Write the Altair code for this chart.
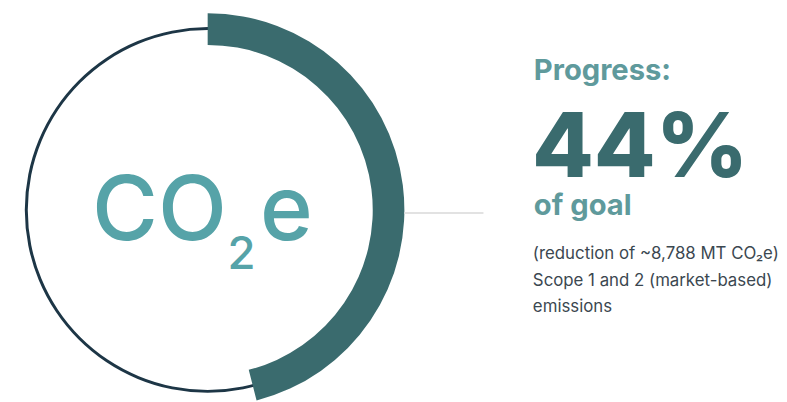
import altair as alt
import pandas as pd

# ---- data ----
segments = ["Progress", "Remaining"]
arc_share = [46, 54]          # share of the ring covered by the thick arc
ring_value = [100]
headline_label = ["Progress:"]
pct_label = ["44%"]
goal_label = ["of goal"]
co2_parts = ["CO", "2", "e"]
note_lines = ["(reduction of ~8,788 MT CO\u2082e)", "Scope 1 and 2 (market-based)", "emissions"]

CX, CY = 202, 202
TEAL_DARK = "#3a6b6e"
TEAL_MID = "#5f9a9c"
TEAL_LIGHT = "#56a3a8"
NAVY = "#1d3646"
TEXT = "#3b4750"
FONT = "Inter"

ring = alt.Chart(pd.DataFrame({"v": ring_value})).mark_arc(
    radius=185, radius2=182, color=NAVY
).encode(theta=alt.Theta("v:Q"), x=alt.value(CX), y=alt.value(CY))

arc_df = pd.DataFrame({"segment": segments, "share": arc_share, "order": [0, 1]})
progress = alt.Chart(arc_df).mark_arc(radius=199, radius2=167).encode(
    theta=alt.Theta("share:Q", stack=True),
    order=alt.Order("order:Q"),
    color=alt.Color("segment:N",
                    scale=alt.Scale(domain=segments, range=[TEAL_DARK, "rgba(0,0,0,0)"]),
                    legend=None),
    x=alt.value(CX), y=alt.value(CY),
)

connector = alt.Chart(pd.DataFrame({"v": [0]})).mark_rule(
    color="#e2e2e2", strokeWidth=2
).encode(x=alt.value(401), x2=alt.value(481), y=alt.value(205))


def txt(label, x, y, size, weight, color, font=FONT):
    return alt.Chart(pd.DataFrame({"t": [label]})).mark_text(
        align="left", baseline="alphabetic", fontSize=size, fontWeight=weight,
        color=color, font=font
    ).encode(text="t:N", x=alt.value(x), y=alt.value(y))


layers = [
    ring, progress, connector,
    txt(co2_parts[0], 85, 232, 91, 500, TEAL_LIGHT),
    txt(co2_parts[1], 222, 262, 46, 500, TEAL_LIGHT),
    txt(co2_parts[2], 255, 232, 91, 500, TEAL_LIGHT),
    txt(headline_label[0], 532, 70, 29.5, 700, TEAL_MID),
    txt(pct_label[0], 530, 169, 91, 800, TEAL_DARK),
    txt(goal_label[0], 532, 207, 29.5, 700, TEAL_MID),
    txt(note_lines[0], 531, 252, 17, 400, TEXT),
    txt(note_lines[1], 531, 279, 17, 400, TEXT),
    txt(note_lines[2], 531, 305, 17, 400, TEXT),
]

chart = alt.layer(*layers).properties(
    width=779, height=394, padding=0
).configure_view(stroke=None)

chart.save("out.html", embed_options={"renderer": "svg", "actions": False})
